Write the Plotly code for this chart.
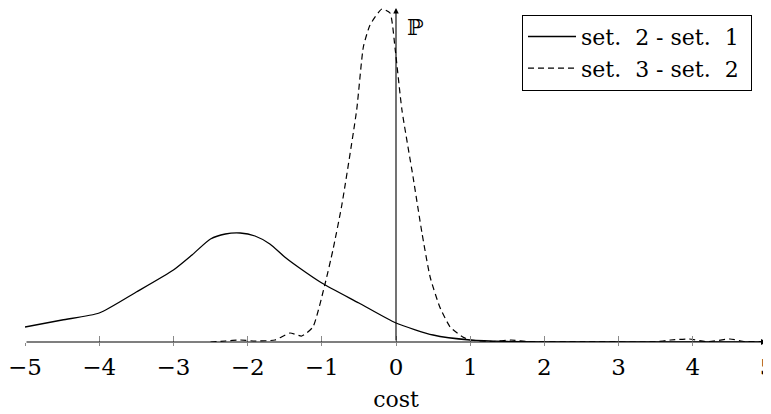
import plotly.graph_objects as go

# solid: set. 2 - set. 1
x_solid = [-5, -4.5, -4, -3.5, -3, -2.75, -2.5, -2.3, -2.1, -1.9, -1.7, -1.5, -1.3, -1.0, -0.5, 0.0, 0.5, 1.0, 1.5, 2.0, 3.0, 4.0, 5.0]
y_solid = [15, 22, 29, 50, 72, 87, 103, 108, 109, 106, 98, 85, 74, 59, 39, 19, 7, 2, 0.5, 0.2, 0.1, 0.1, 0.1]

# dashed: set. 3 - set. 2
x_dash = [-2.5, -2.3, -2.1, -1.9, -1.63, -1.43, -1.27, -1.12, -0.96, -0.85, -0.73, -0.53, -0.44, -0.35, -0.19,
          -0.08, -0.01, 0.08, 0.23, 0.35, 0.46, 0.59, 0.73, 0.9, 1.0, 1.3, 1.55, 1.8, 2.5, 3.5, 3.7, 3.95, 4.2, 4.5, 4.7, 5.0]
y_dash = [0, 1, 2, 1, 2, 9, 6, 15, 57, 92, 137, 232, 295, 317, 333,
          329, 292, 232, 165, 109, 65, 35, 15, 5, 2, 0.5, 2, 0.3, 0.2, 0.2, 2, 3, 0.3, 3, 0.5, 0.5]

tick_vals = [-5, -4, -3, -2, -1, 0, 1, 2, 3, 4, 5]
tick_text = ["\u22125", "\u22124", "\u22123", "\u22122", "\u22121", "0", "1", "2", "3", "4", "5"]

series_names = ["set.\u00a0\u00a02 - set.\u00a0\u00a01", "set.\u00a0\u00a03 - set.\u00a0\u00a02"]

FONT = "'DejaVu Serif', 'Liberation Serif', serif"
PAD = "\u00a0"  # right padding inside the legend box

fig = go.Figure()
fig.add_trace(go.Scatter(x=x_solid, y=y_solid, mode="lines", name=series_names[0] + PAD, cliponaxis=False,
                         line=dict(color="black", width=1.3, shape="spline", smoothing=0.6)))
fig.add_trace(go.Scatter(x=x_dash, y=y_dash, mode="lines", name=series_names[1] + PAD, cliponaxis=False,
                         line=dict(color="black", width=1.2, dash="6px,4px", shape="spline", smoothing=0.5)))
# overlay axis for lower half of the ticks
fig.add_trace(go.Scatter(x=[-5, 5], y=[0, 0], mode="lines", xaxis="x2", yaxis="y",
                         line=dict(width=0), showlegend=False, hoverinfo="skip"))

fig.update_layout(
    width=771, height=406,
    margin=dict(l=17, r=12, t=0, b=72, autoexpand=False),
    paper_bgcolor="white", plot_bgcolor="white",
    font=dict(family=FONT, color="black"),
    showlegend=True,
    legend=dict(x=(752 - 25) / 742, y=0.98, xanchor="right", yanchor="top",
                bordercolor="black", borderwidth=1, bgcolor="white",
                font=dict(family=FONT, size=22), tracegroupgap=0, itemwidth=48),
    xaxis=dict(range=[-5, 5], tickmode="array", tickvals=tick_vals, ticktext=tick_text,
               ticks="inside", ticklen=6, tickcolor="#8a8a8a", tickwidth=1,
               showgrid=False, zeroline=False, showline=False, automargin=False,
               ticklabelstandoff=9, ticklabeloverflow="allow",
               tickfont=dict(family=FONT, size=23),
               title=dict(text="cost", font=dict(family=FONT, size=22), standoff=12)),
    xaxis2=dict(range=[-5, 5], overlaying="x", anchor="y", side="bottom",
                tickmode="array", tickvals=tick_vals, showticklabels=False,
                ticks="outside", ticklen=3, tickcolor="#8a8a8a", tickwidth=1, automargin=False,
                showgrid=False, zeroline=False, showline=False),
    yaxis=dict(range=[0, 334], visible=False, showgrid=False, zeroline=False, automargin=False),
)

# axis lines with arrows
fig.add_annotation(x=5, y=0, ax=-5, ay=0, xref="x", yref="y", axref="x", ayref="y",
                   showarrow=True, arrowhead=2, arrowsize=1, arrowwidth=1.2, arrowcolor="black", text="")
fig.add_annotation(x=0, y=334, ax=0, ay=0, xref="x", yref="y", axref="x", ayref="y",
                   showarrow=True, arrowhead=2, arrowsize=1, arrowwidth=1.1, arrowcolor="black", text="")
fig.add_annotation(x=0, y=334, xref="x", yref="y", text="\u2119", showarrow=False,
                   xanchor="left", yanchor="top", xshift=9, yshift=-5,
                   font=dict(family="DejaVu Serif", size=22, color="black"))

fig.write_html("out.html")
